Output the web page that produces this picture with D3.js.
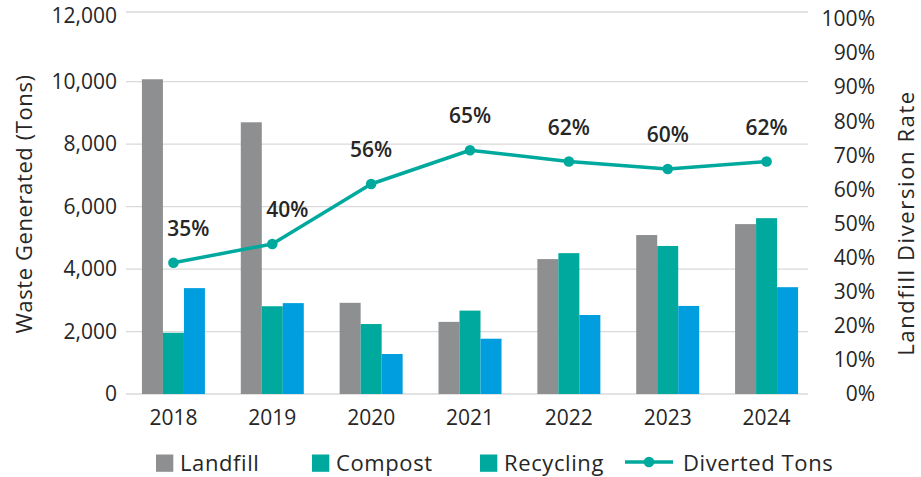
<!DOCTYPE html>
<html>
<head>
<meta charset="utf-8">
<script src="https://cdn.jsdelivr.net/npm/d3@7"></script>
<style>
  html, body { margin: 0; padding: 0; background: #ffffff; }
  svg { display: block; }
  text { font-family: "Open Sans", "Noto Sans", sans-serif; fill: #262626; }
</style>
</head>
<body>
<svg id="chart" width="921" height="477"></svg>
<script>
// ---- data ----
const years = ["2018", "2019", "2020", "2021", "2022", "2023", "2024"];
const landfill  = [10070, 8700, 2920, 2310, 4320, 5090, 5440];
const compost   = [1960, 2810, 2240, 2670, 4510, 4740, 5630];
const recycling = [3390, 2910, 1280, 1770, 2530, 2820, 3420];
const diversionRate = [0.35, 0.40, 0.56, 0.65, 0.62, 0.60, 0.62];
const leftTickValues = [0, 2000, 4000, 6000, 8000, 10000, 12000];
const rightTickLabels = ["0%", "10%", "20%", "30%", "40%", "50%", "60%", "70%", "80%", "90%", "90%", "100%"];
const seriesNames = ["Landfill", "Compost", "Recycling", "Diverted Tons"];
const leftTitle = "Waste Generated (Tons)";
const rightTitle = "Landfill Diversion Rate";

// ---- look ----
const GREY = "#8e8f91", TEAL = "#00a99d", BLUE = "#009ddf", GRID = "#d9d9d9";
const barColors = [GREY, TEAL, BLUE];
const legendColors = [GREY, TEAL, TEAL];
const gridLeft = 126, gridRight = 808;
const tickFont = "21px";

const svg = d3.select("#chart");

// ---- scales ----
const x = d3.scaleBand().domain(years).range([124, 816]).paddingInner(0).paddingOuter(0);
const groupWidth = 63;
const xi = d3.scaleBand().domain([0, 1, 2]).range([0, groupWidth]);
const yLeft = d3.scaleLinear().domain([0, 10000, 12000]).range([394, 81.7, 12]);
const yRight = d3.scaleLinear().domain([0, 1]).range([394, 19]);
const rightTickValues = d3.range(rightTickLabels.length).map(i => i / (rightTickLabels.length - 1));

// ---- gridlines ----
svg.append("g")
  .selectAll("line")
  .data(leftTickValues)
  .join("line")
  .attr("x1", gridLeft).attr("x2", gridRight)
  .attr("y1", d => yLeft(d)).attr("y2", d => yLeft(d))
  .attr("stroke", GRID).attr("stroke-width", 1.3);

// ---- left axis ----
const leftAxis = svg.append("g")
  .attr("transform", `translate(${gridLeft},0)`)
  .call(d3.axisLeft(yLeft).tickValues(leftTickValues).tickSize(0).tickPadding(9).tickFormat(d3.format(",")));
leftAxis.select(".domain").remove();
leftAxis.selectAll("text").attr("font-size", tickFont).attr("fill", "#262626")
  .style("font-family", "'Open Sans', sans-serif");
// keep the top label inside the canvas
leftAxis.selectAll(".tick").filter(d => d === d3.max(leftTickValues))
  .select("text").attr("y", 4);

// ---- right axis ----
const rightAxis = svg.append("g")
  .attr("transform", `translate(${gridRight},0)`)
  .call(d3.axisRight(yRight).tickValues(rightTickValues).tickSize(0).tickPadding(0)
    .tickFormat((d, i) => rightTickLabels[i]));
rightAxis.select(".domain").remove();
rightAxis.selectAll("text").attr("font-size", tickFont).attr("fill", "#262626")
  .attr("text-anchor", "end").attr("x", 67)
  .style("font-family", "'Open Sans', sans-serif");

// ---- bottom axis ----
const bottomAxis = svg.append("g")
  .attr("transform", "translate(0,394)")
  .call(d3.axisBottom(x).tickSize(0).tickPadding(16));
bottomAxis.select(".domain").remove();
bottomAxis.selectAll("text").attr("font-size", tickFont).attr("fill", "#262626")
  .style("font-family", "'Open Sans', sans-serif");

// ---- bars ----
const seriesValues = [landfill, compost, recycling];
const groupOffset = (x.bandwidth() - groupWidth) / 2;
const barData = [];
years.forEach((yr, i) => {
  seriesValues.forEach((vals, s) => barData.push({ yr, s, v: vals[i] }));
});
svg.append("g")
  .selectAll("rect")
  .data(barData)
  .join("rect")
  .attr("x", d => x(d.yr) + groupOffset + xi(d.s))
  .attr("width", xi.bandwidth())
  .attr("y", d => yLeft(d.v))
  .attr("height", d => yLeft(0) - yLeft(d.v))
  .attr("fill", d => barColors[d.s]);

// ---- diversion line ----
const cx = yr => x(yr) + x.bandwidth() / 2;
const linePts = years.map((yr, i) => ({ yr, v: diversionRate[i], i }));
svg.append("path")
  .datum(linePts)
  .attr("fill", "none")
  .attr("stroke", TEAL)
  .attr("stroke-width", 3.5)
  .attr("stroke-linejoin", "round")
  .attr("d", d3.line().x(d => cx(d.yr)).y(d => yRight(d.v)));
svg.append("g")
  .selectAll("circle")
  .data(linePts)
  .join("circle")
  .attr("cx", d => cx(d.yr)).attr("cy", d => yRight(d.v))
  .attr("r", 5.3).attr("fill", TEAL);

// value labels: sit above each point, nudged clear of a tall landfill bar
const pctFmt = d3.format(".0%");
svg.append("g")
  .selectAll("text")
  .data(linePts)
  .join("text")
  .attr("font-size", "21px")
  .attr("font-weight", 600)
  .attr("text-anchor", "middle")
  .attr("dominant-baseline", "central")
  .attr("x", d => {
    const labelY = yRight(d.v) - 35;
    const barTop = yLeft(landfill[d.i]);
    if (barTop < labelY + 10) {
      const barRight = x(d.yr) + groupOffset + xi(0) + xi.bandwidth();
      return barRight + 4 + 21.5;
    }
    return cx(d.yr);
  })
  .attr("y", d => yRight(d.v) - 35)
  .text(d => pctFmt(d.v));

// ---- axis titles ----
svg.append("text")
  .attr("transform", "translate(23,204) rotate(-90)")
  .attr("text-anchor", "middle").attr("dominant-baseline", "central")
  .attr("font-size", "22px").attr("letter-spacing", "0.6px")
  .text(leftTitle);
svg.append("text")
  .attr("transform", "translate(905,223) rotate(-90)")
  .attr("text-anchor", "middle").attr("dominant-baseline", "central")
  .attr("font-size", "22px").attr("letter-spacing", "1.6px")
  .text(rightTitle);

// ---- legend ----
const legendX = [156, 312, 480, 625];
const legend = svg.append("g");
seriesNames.forEach((name, i) => {
  const g = legend.append("g").attr("transform", `translate(${legendX[i]},0)`);
  let textX;
  if (i < 3) {
    g.append("rect").attr("x", 0).attr("y", 454.5).attr("width", 17.3).attr("height", 17.3)
      .attr("fill", legendColors[i]);
    textX = 24;
  } else {
    g.append("line").attr("x1", 0).attr("x2", 48).attr("y1", 462).attr("y2", 462)
      .attr("stroke", TEAL).attr("stroke-width", 3.5);
    g.append("circle").attr("cx", 24).attr("cy", 462).attr("r", 5.3).attr("fill", TEAL);
    textX = 58;
  }
  g.append("text").attr("x", textX).attr("y", 470.5)
    .attr("font-size", "22px").attr("letter-spacing", "0.6px")
    .text(name);
});
</script>
</body>
</html>
